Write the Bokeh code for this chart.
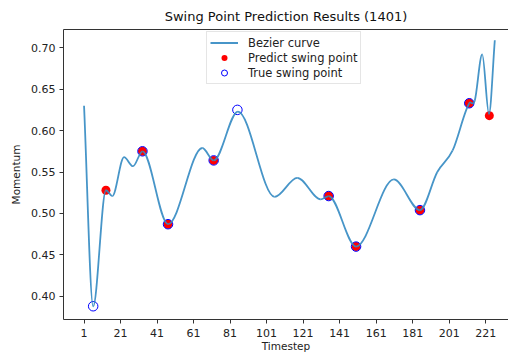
from bokeh.plotting import figure
from bokeh.models import (LinearAxis, FixedTicker, PrintfTickFormatter, Legend,
                          LegendItem, Range1d, ColumnDataSource)
from bokeh.embed import file_html
from bokeh.resources import INLINE

# ---- data ----
# knots of the smooth (Bezier) momentum curve: timestep, momentum
curve_t = [1, 6, 13, 16.5, 22.9, 27.8, 33, 47, 65.8, 72, 85.3, 105.4, 117.8,
           130.6, 135, 150, 170.7, 185, 194.5, 202.9, 212, 215, 219.1, 222.8, 226]
curve_m = [0.630, 0.388, 0.528, 0.521, 0.568, 0.557, 0.575, 0.487, 0.579, 0.564,
           0.623, 0.520, 0.543, 0.517, 0.521, 0.460, 0.541, 0.504, 0.550, 0.576,
           0.633, 0.636, 0.692, 0.620, 0.709]

pred_t = [13, 33, 47, 72, 135, 150, 185, 212, 223]
pred_m = [0.528, 0.575, 0.487, 0.564, 0.521, 0.460, 0.504, 0.633, 0.618]

true_t = [6, 33, 47, 72, 85, 135, 150, 185, 212]
true_m = [0.388, 0.575, 0.487, 0.564, 0.625, 0.521, 0.460, 0.504, 0.633]

x_ticks = [1, 21, 41, 61, 81, 101, 121, 141, 161, 181, 201, 221]
y_ticks = [0.40, 0.45, 0.50, 0.55, 0.60, 0.65, 0.70]

TITLE = "Swing Point Prediction Results (1401)"
FONT = "DejaVu Sans"

# ---- cubic Bezier segments through the knots (monotone Hermite tangents) ----
n = len(curve_t)
sec = [(curve_m[i + 1] - curve_m[i]) / (curve_t[i + 1] - curve_t[i]) for i in range(n - 1)]
tan = [0.0] * n
tan[0] = sec[0]
tan[-1] = sec[-1]
for i in range(1, n - 1):
    if sec[i - 1] * sec[i] <= 0:
        tan[i] = 0.0
    else:
        tan[i] = 0.5 * (sec[i - 1] + sec[i])
seg = dict(x0=[], y0=[], x1=[], y1=[], cx0=[], cy0=[], cx1=[], cy1=[])
for i in range(n - 1):
    h = curve_t[i + 1] - curve_t[i]
    seg["x0"].append(curve_t[i]); seg["y0"].append(curve_m[i])
    seg["x1"].append(curve_t[i + 1]); seg["y1"].append(curve_m[i + 1])
    seg["cx0"].append(curve_t[i] + h / 3); seg["cy0"].append(curve_m[i] + tan[i] * h / 3)
    seg["cx1"].append(curve_t[i + 1] - h / 3); seg["cy1"].append(curve_m[i + 1] - tan[i + 1] * h / 3)

p = figure(width=508, height=354, output_backend="svg", toolbar_location=None,
           x_range=Range1d(-10.25, 233.5), y_range=Range1d(0.372, 0.722),
           min_border_left=63, min_border_right=0, min_border_top=29, min_border_bottom=0,
           title=TITLE)
p.outline_line_color = None
p.xgrid.visible = False
p.ygrid.visible = False
p.background_fill_color = "white"
p.border_fill_color = "white"

p.title.text_font = FONT
p.title.text_font_size = "13px"
p.title.text_font_style = "normal"
p.title.text_color = "#111111"
p.title.align = "center"
p.title.vertical_align = "top"
p.title.offset = 0
p.title.standoff = 7

CURVE = "#3389c2"

red = p.scatter(pred_t, pred_m, size=9, fill_color="red", line_color=None)
blue = p.scatter(true_t, true_m, size=9.5, fill_color=None, line_color="blue", line_width=1)
p.bezier(x0="x0", y0="y0", x1="x1", y1="y1", cx0="cx0", cy0="cy0", cx1="cx1", cy1="cy1",
         source=ColumnDataSource(seg), line_color=CURVE, line_width=1.8, line_alpha=0.9)
# off-screen line used only as the legend swatch for the curve
leg_line = p.line([-500, -400], [0.5, 0.5], line_color=CURVE, line_width=1.8)

for ax in (p.xaxis[0], p.yaxis[0]):
    ax.axis_line_color = "#333333"
    ax.major_tick_line_color = "#333333"
    ax.major_tick_out = 4
    ax.major_tick_in = 0
    ax.minor_tick_line_color = None
    ax.major_label_text_font = FONT
    ax.major_label_text_font_size = "11px"
    ax.major_label_text_color = "#222222"
    ax.axis_label_text_font = FONT
    ax.axis_label_text_font_size = "10.5px"
    ax.axis_label_text_font_style = "normal"
    ax.axis_label_text_color = "#222222"

p.xaxis.ticker = FixedTicker(ticks=x_ticks)
p.xaxis.axis_label = "Timestep"
p.xaxis.major_label_standoff = 5
p.xaxis.axis_label_standoff = 0
p.yaxis.ticker = FixedTicker(ticks=y_ticks)
p.yaxis.formatter = PrintfTickFormatter(format="%.2f")
p.yaxis.axis_label = "Momentum"
p.yaxis.major_label_standoff = 4
p.yaxis.axis_label_standoff = 6

top = LinearAxis(ticker=FixedTicker(ticks=[]), major_label_text_font_size="0px",
                 axis_line_color="#333333", major_tick_line_color=None,
                 minor_tick_line_color=None)
p.add_layout(top, "above")

legend = Legend(items=[LegendItem(label="Bezier curve", renderers=[leg_line]),
                       LegendItem(label="Predict swing point", renderers=[red]),
                       LegendItem(label="True swing point", renderers=[blue])],
                location=(143, 235))
legend.label_text_font = FONT
legend.label_text_font_size = "11.5px"
legend.label_text_color = "#222222"
legend.glyph_width = 28
legend.glyph_height = 15
legend.label_height = 15
legend.spacing = 0
legend.padding = 3
legend.margin = 0
legend.label_standoff = 10
legend.border_line_color = "#cccccc"
legend.border_line_width = 1
legend.background_fill_alpha = 0.8
p.add_layout(legend, "center")

open("out.html", "w").write(file_html(p, INLINE))
